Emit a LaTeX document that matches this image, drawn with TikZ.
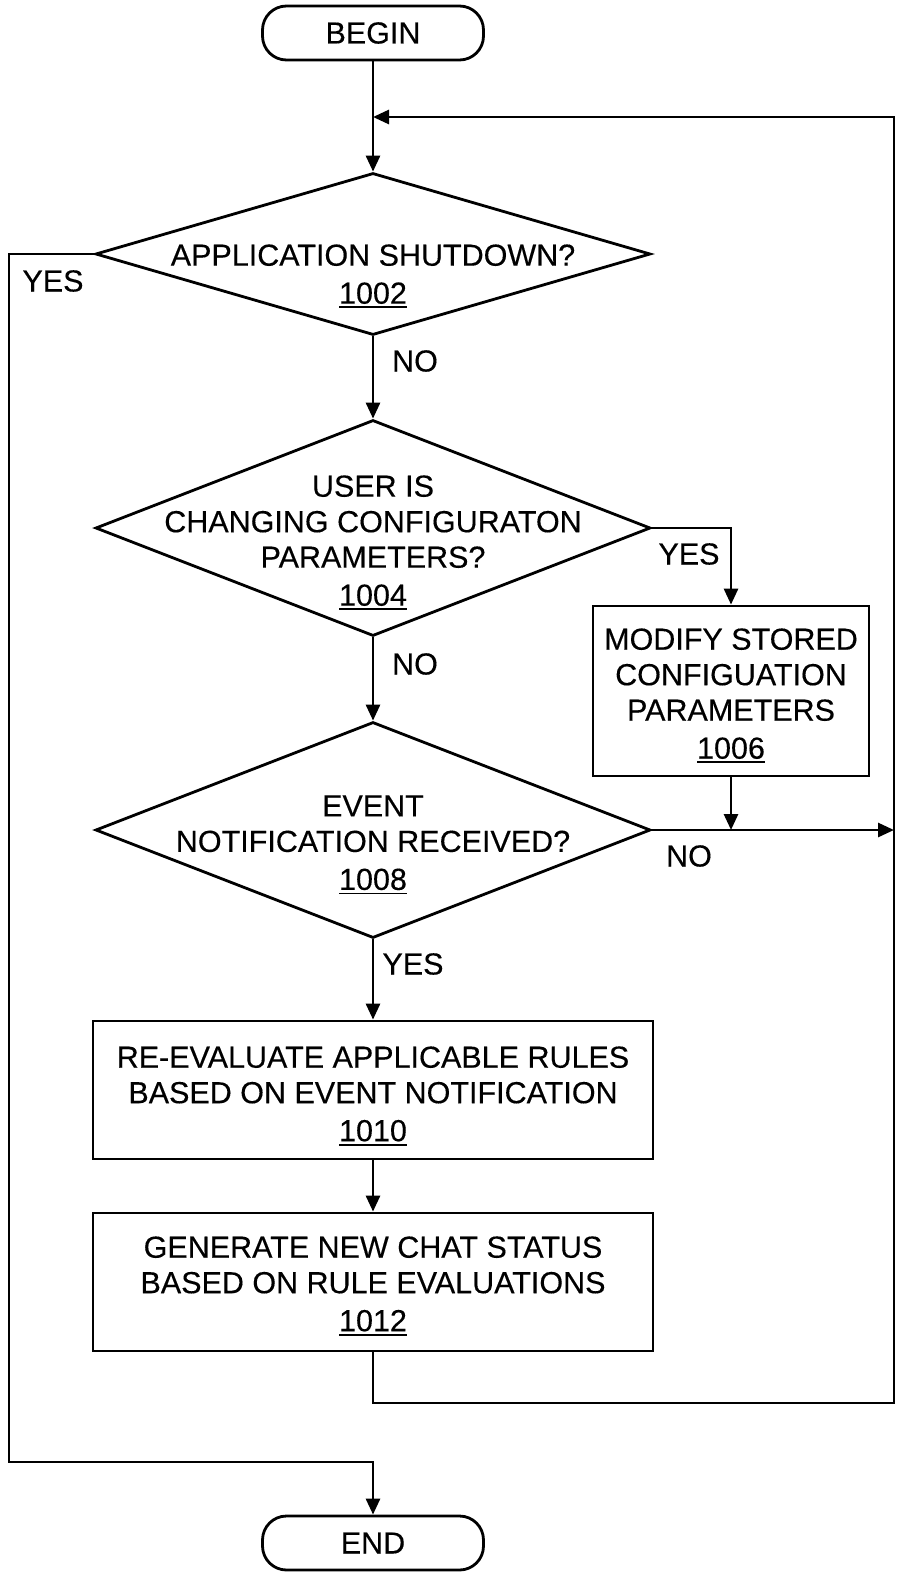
\documentclass[tikz,border=0pt]{standalone}
\usepackage{fontspec}
\setmainfont[FakeBold=0.3]{Liberation Sans}
\usetikzlibrary{arrows.meta,shapes.geometric}
\newsavebox\numbox
\newcommand\refnum[1]{\sbox\numbox{#1}\rlap{\rule[-4.5pt]{\wd\numbox}{1.8pt}}\usebox\numbox}
\begin{document}
\begin{tikzpicture}[x=1pt,y=-1pt,line width=2.8pt,
  >={Triangle[length=16pt,width=14pt]},
  every node/.style={font=\fontsize{30.5}{35.5}\selectfont},
  term/.style={draw,rounded corners=24pt,minimum width=221pt,minimum height=54pt,inner sep=0pt},
  dec/.style={draw,diamond,minimum width=555pt,minimum height=#1,inner sep=0pt},
  proc/.style={draw,inner sep=0pt},
  txt/.style={align=center,inner sep=0pt,anchor=north},
  lab/.style={inner sep=0pt}]
\fill[white] (0,0) rectangle (902,1574);
\useasboundingbox (0,0) rectangle (902,1574);

\node[term] (begin) at (373,33) {BEGIN};
\node[dec=162pt] (d1) at (373,254) {};
\node[txt] (t1) at (373,243) {APPLICATION SHUTDOWN?\\[2.5pt]\refnum{1002}};
\node[dec=216pt] (d2) at (373,528) {};
\node[txt] (t2) at (373,474) {USER IS\\CHANGING CONFIGURATON\\PARAMETERS?\\[2.5pt]\refnum{1004}};
\node[proc,minimum width=276pt,minimum height=170pt] (p6) at (731,691) {};
\node[txt] (t6) at (731,627) {MODIFY STORED\\CONFIGUATION\\PARAMETERS\\[2.5pt]\refnum{1006}};
\node[dec=216pt] (d3) at (373,830) {};
\node[txt] (t3) at (373,794) {EVENT\\NOTIFICATION RECEIVED?\\[2.5pt]\refnum{1008}};
\node[proc,minimum width=560pt,minimum height=138pt] (p10) at (373,1090) {};
\node[txt] (t10) at (373,1045) {RE-EVALUATE APPLICABLE RULES\\BASED ON EVENT NOTIFICATION\\[2.5pt]\refnum{1010}};
\node[proc,minimum width=560pt,minimum height=138pt] (p12) at (373,1282) {};
\node[txt] (t12) at (373,1235) {GENERATE NEW CHAT STATUS\\BASED ON RULE EVALUATIONS\\[2.5pt]\refnum{1012}};
\node[term] (end) at (373,1543) {END};

\node[lab] (y1) at (53,281) {YES};
\node[lab] (n1) at (415,361) {NO};
\node[lab] (y2) at (689,554) {YES};
\node[lab] (n2) at (415,664) {NO};
\node[lab] (n3) at (689,856) {NO};
\node[lab] (y3) at (413,964) {YES};

\coordinate (loopin) at (373,117);
\coordinate (rtop) at (894,117);
\coordinate (rmid) at (894,830);
\coordinate (rbot) at (894,1403);
\coordinate (lbot) at (9,1462);

\draw[->] (begin.south) -- (d1.north);
\draw[->] (d1.west) -| (lbot) -| (end.north);
\draw[->] (d1.south) -- (d2.north);
\draw[->] (d2.east) -| (p6.north);
\draw[->] (d2.south) -- (d3.north);
\draw[->] (p6.south) -- (p6.south |- d3.east);
\draw[->] (d3.east) -- (rmid);
\draw[->] (d3.south) -- (p10.north);
\draw[->] (p10.south) -- (p12.north);
\draw[->] (p12.south) |- (rbot) -- (rtop) -- (loopin);
\end{tikzpicture}
\end{document}
